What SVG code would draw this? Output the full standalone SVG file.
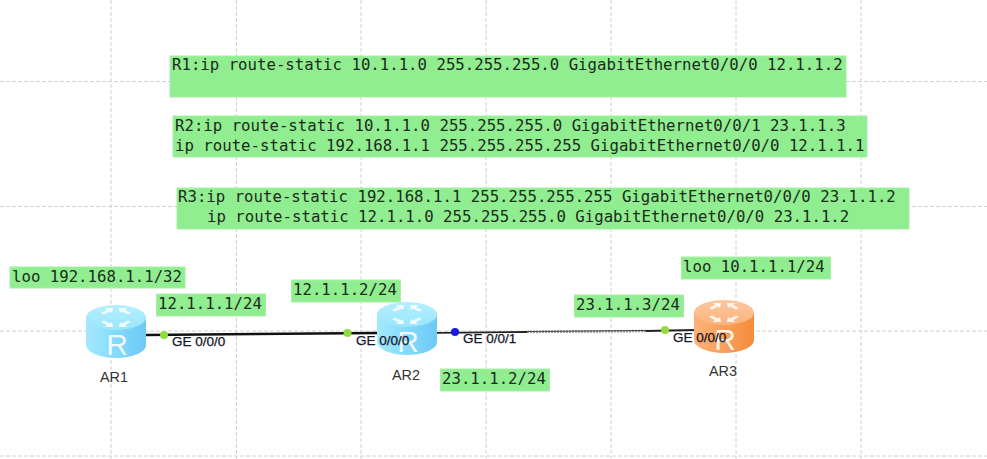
<svg xmlns="http://www.w3.org/2000/svg" width="987" height="459" viewBox="0 0 987 459">
<style>
.grid{stroke:#d2d2d2;stroke-width:1;stroke-dasharray:4 2;fill:none}
.box{fill:#90ee90;stroke:#a6f0a6;stroke-width:1}
.mono{font-family:"DejaVu Sans Mono","Liberation Mono",monospace;font-size:15.7px;fill:#1c2a1c}
.ge{font-family:"Liberation Sans",Arial,sans-serif;font-size:13.5px;fill:#15152a;stroke:#15152a;stroke-width:.25}
.name{font-family:"Liberation Sans",Arial,sans-serif;font-size:14.4px;fill:#333;text-anchor:middle}
.r{font-family:"Liberation Sans",Arial,sans-serif;font-size:30px;fill:#fff;fill-opacity:.88;text-anchor:middle}
.link{fill:none;stroke:#222;stroke-width:1.800}
</style>
<defs>
<linearGradient id="bs" x1="0" x2="1" y1="0" y2="0"><stop offset="0" stop-color="#a5e8fd"/><stop offset=".5" stop-color="#83dafc"/><stop offset="1" stop-color="#6ec8f6"/></linearGradient>
<linearGradient id="bt" x1="0" x2="0" y1="0" y2="1"><stop offset="0" stop-color="#b4eefe"/><stop offset="1" stop-color="#9be6fd"/></linearGradient>
<linearGradient id="os" x1="0" x2="1" y1="0" y2="0"><stop offset="0" stop-color="#fbb27a"/><stop offset=".5" stop-color="#f99f5a"/><stop offset="1" stop-color="#f58c3c"/></linearGradient>
<linearGradient id="ot" x1="0" x2="0" y1="0" y2="1"><stop offset="0" stop-color="#fdc79c"/><stop offset="1" stop-color="#fbb380"/></linearGradient>
<path id="body" d="M-30 -16.500V11A30 13 0 0 0 30 11V-16.500Z"/>
<ellipse id="top" cx="0" cy="-16.500" rx="30" ry="12.500"/>
<g id="arr" fill="#fff" fill-opacity=".85">
<path d="M-3 -26L-11 -26L-9 -24L-15 -21L-12 -19.500L-6 -22.500L-4 -21Z"/>
<path d="M3 -26L11 -26L9 -24L15 -21L12 -19.500L6 -22.500L4 -21Z"/>
<path d="M-3 -7L-11 -7L-9 -9L-15 -12L-12 -13.500L-6 -10.500L-4 -12Z"/>
<path d="M3 -7L11 -7L9 -9L15 -12L12 -13.500L6 -10.500L4 -12Z"/>
</g>
</defs>
<g id="grid">
<path class="grid" d="M111 0V459M236.500 0V459M361 0V459M486 0V459M611 0V459M736 0V459M861 0V459M0 81.500H987M0 206.500H987M0 331H987M0 456H987"/>
</g>
<g id="config">
<rect class="box" x="170" y="56" width="676" height="41"/>
<rect class="box" x="173" y="116" width="694" height="41"/>
<rect class="box" x="177" y="188" width="732" height="41"/>
<text class="mono" x="172" y="70">R1:ip route-static 10.1.1.0 255.255.255.0 GigabitEthernet0/0/0 12.1.1.2</text>
<text class="mono" x="175" y="131">R2:ip route-static 10.1.1.0 255.255.255.0 GigabitEthernet0/0/1 23.1.1.3</text>
<text class="mono" x="175" y="151">ip route-static 192.168.1.1 255.255.255.255 GigabitEthernet0/0/0 12.1.1.1</text>
<text class="mono" x="178" y="202">R3:ip route-static 192.168.1.1 255.255.255.255 GigabitEthernet0/0/0 23.1.1.2</text>
<text class="mono" x="207" y="222">ip route-static 12.1.1.0 255.255.255.0 GigabitEthernet0/0/0 23.1.1.2</text>
</g>
<g id="connectors">
<path class="link" style="stroke-width:2.4;stroke:#111" d="M146 335L378 333"/>
<path class="link" d="M437 332.800L527 332"/>
<path d="M527 332L646 331" stroke="#999" stroke-width="2.500" stroke-dasharray="2 1" fill="none"/>
<path d="M527 331.500L646 330.500" stroke="#444" stroke-width="1" fill="none"/>
<path class="link" d="M646 331L695 330"/>
</g>
<g id="AR1">
<g transform="translate(116 334)"><use href="#body" fill="url(#bs)"/><use href="#top" fill="url(#bt)"/><use href="#arr"/></g>
<text class="r" x="117" y="355">R</text>
<text class="name" x="114" y="382">AR1</text>
</g>
<g id="AR2">
<g transform="translate(407 331)"><use href="#body" fill="url(#bs)"/><use href="#top" fill="url(#bt)"/><use href="#arr"/></g>
<text class="r" x="408" y="352">R</text>
<text class="name" x="406" y="380">AR2</text>
</g>
<g id="AR3">
<g transform="translate(724 329)"><use href="#body" fill="url(#os)"/><use href="#top" fill="url(#ot)"/><use href="#arr"/></g>
<text class="r" x="725" y="350">R</text>
<text class="name" x="723" y="376">AR3</text>
</g>
<g id="ports">
<circle cx="164" cy="335" r="4" fill="#8fdc3c"/>
<circle cx="347.500" cy="333" r="4" fill="#8fdc3c"/>
<circle cx="455" cy="332" r="4" fill="#1a1ae6"/>
<circle cx="665" cy="330" r="4" fill="#8fdc3c"/>
<text class="ge" x="172" y="346">GE 0/0/0</text>
<text class="ge" x="356" y="345">GE 0/0/0</text>
<text class="ge" x="463" y="343">GE 0/0/1</text>
<text class="ge" x="673" y="342">GE 0/0/0</text>
</g>
<g id="ip-labels">
<rect class="box" x="10" y="267" width="175" height="21"/>
<text class="mono" x="12" y="282">loo 192.168.1.1/32</text>
<rect class="box" x="156.500" y="294" width="109" height="22"/>
<text class="mono" x="158" y="309">12.1.1.1/24</text>
<rect class="box" x="291.500" y="280" width="109" height="22"/>
<text class="mono" x="293" y="295">12.1.1.2/24</text>
<rect class="box" x="440.500" y="369" width="109" height="22"/>
<text class="mono" x="442" y="384">23.1.1.2/24</text>
<rect class="box" x="574.500" y="295" width="109" height="22"/>
<text class="mono" x="576" y="310">23.1.1.3/24</text>
<rect class="box" x="681.500" y="257" width="149" height="22"/>
<text class="mono" x="683" y="272">loo 10.1.1.1/24</text>
</g>
</svg>
